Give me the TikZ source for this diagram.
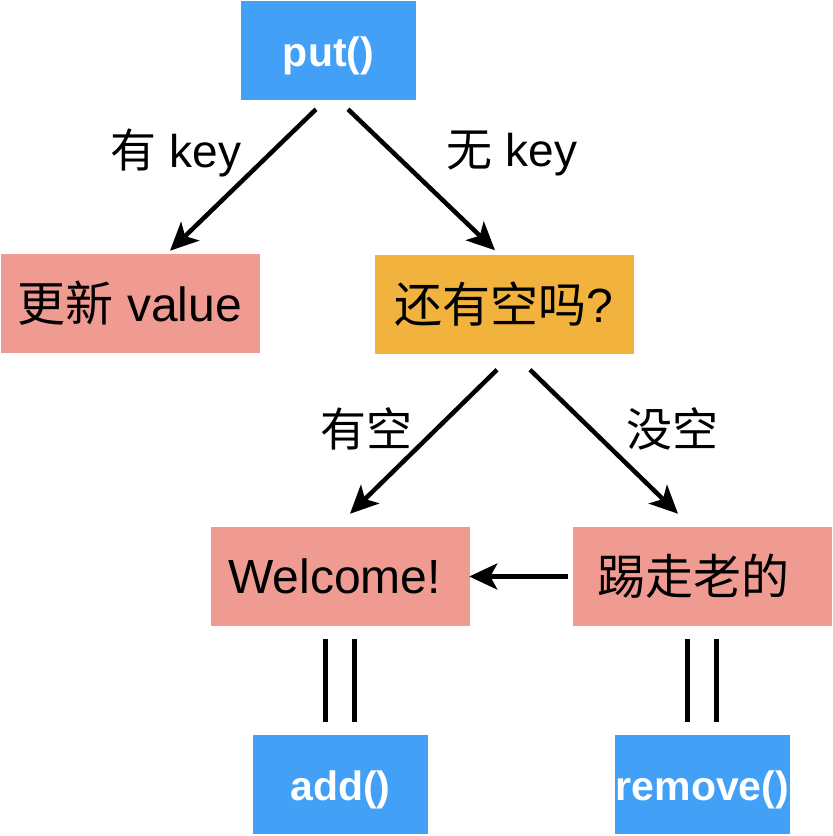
\documentclass[tikz,border=0pt]{standalone}
\usepackage{fontspec}
\setmainfont{Liberation Sans}
\newfontfamily\cjk{Noto Sans CJK SC}
\usetikzlibrary{arrows.meta, positioning}
\definecolor{callblue}{RGB}{66,161,246}
\definecolor{boxpink}{RGB}{240,155,146}
\definecolor{askorange}{RGB}{242,178,62}
\tikzset{>={Stealth[length=28pt,width=26pt,inset=7pt]}}

\begin{document}
\begin{tikzpicture}[x=1pt, y=-1pt, line width=4.5pt,
	call/.style={fill=callblue, text=white, font=\fontsize{41}{48}\selectfont\bfseries, minimum width=175pt, minimum height=99pt, inner sep=0pt, text height=38pt, text depth=6pt},
	state/.style={fill=boxpink, font=\fontsize{48}{56}\selectfont, minimum width=259pt, minimum height=99pt, inner sep=0pt},
	lbl/.style={font=\fontsize{46}{54}\selectfont, inner sep=0pt}]

		\useasboundingbox (0,0) rectangle (833,836);

		\node[call] (put) at (328.5,50.5) {put()};
		\node[state] (upd) at (130,303.5) {{\cjk 更新} value};
		\node[state, fill=askorange] (ask) at (504,304) {{\cjk 还有空吗}?};
		\node[state] (wel) at (340.5,576.5) {\hspace{-12pt}Welcome!};
		\node[state] (kick) at (702.5,576.5) {\hspace{-18pt}\cjk 踢走老的};
		\node[call] (add) at (340.5,784.5) {add()};
		\node[call] (rem) at (702.5,784.5) {remove()};

		\draw [->] ([xshift=-12.5pt,yshift=-7pt]put.south)--([xshift=40pt,yshift=1pt]upd.north);
		\draw [->] ([xshift=19.5pt,yshift=-7pt]put.south)--([xshift=-9pt,yshift=2pt]ask.north);
		\draw [->] ([xshift=-7pt,yshift=-14pt]ask.south)--([xshift=9.5pt,yshift=11pt]wel.north);
		\draw [->] ([xshift=26pt,yshift=-14pt]ask.south)--([xshift=-24.5pt,yshift=11pt]kick.north);
		\draw [->] ([xshift=-3pt]kick.west)--([xshift=-3pt]wel.east);
		\foreach \a/\b in {wel/add, kick/rem}
			\foreach \dx in {-15pt,14pt}
				\draw [line width=5pt] ([xshift=\dx,yshift=-11pt]\a.south)--([xshift=\dx,yshift=11pt]\b.north);

		\node[lbl] (haskey) at (176,153) {{\cjk 有} key};
		\node[lbl] (nokey) at (512,153) {{\cjk 无} key};
		\node[lbl] (hasroom) at (366,429) {\cjk 有空};
		\node[lbl] (noroom) at (672.5,429) {\cjk 没空};

\end{tikzpicture}
\end{document}
